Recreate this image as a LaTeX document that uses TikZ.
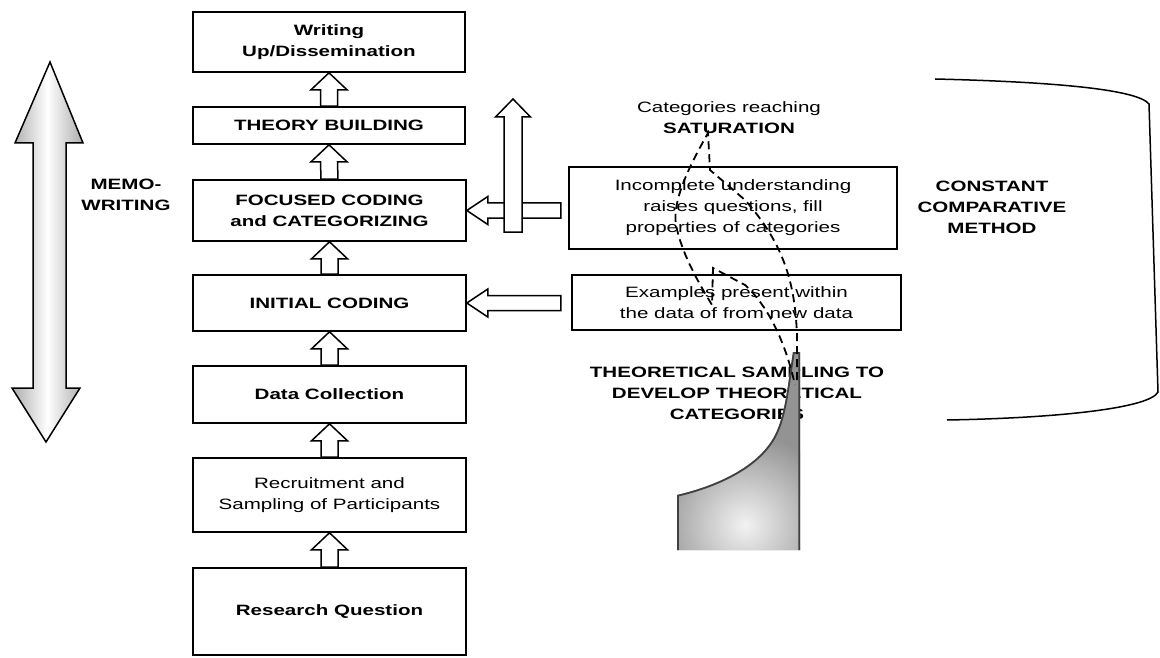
\documentclass[tikz,border=0pt]{standalone}
\usepackage{fontspec}
\setmainfont{Liberation Sans}[FakeStretch=1.37]
\usetikzlibrary{calc}

% upward hollow block arrow from the top of #1 to the bottom of #2
\newcommand\blockup[2]{%
  \draw[blk] (#2.south) -- ++(18,17) -- ++(-9.5,0)
    -- ($(#1.north)+(8.5,0)$) -- ($(#1.north)+(-8.5,0)$)
    -- ($(#2.south)+(-8.5,17)$) -- ++(-9.5,0) -- cycle;}
% leftward hollow block arrow ending at the east side of #1
\newcommand\blockleft[1]{%
  \draw[blk] (#1.east) -- ++(21,-14) -- ++(0,6.5) -- ++(73,0) -- ++(0,15)
    -- ++(-73,0) -- ++(0,6.5) -- cycle;}

\begin{document}
\begin{tikzpicture}[x=1pt,y=-1pt,
  txt/.style={align=center, inner sep=0pt, font=\fontsize{15}{21}\selectfont},
  box/.style={txt, draw, line width=1.6pt},
  blk/.style={draw, line width=1.5pt, fill=white, line join=miter},
  dashline/.style={line width=1.8pt, dash pattern=on 8pt off 5pt}]
\useasboundingbox[fill=white] (0,0) rectangle (1160,658);

% main process column
\node[box, minimum width=272pt, minimum height=60pt] (write) at (329,42)
  {\textbf{Writing}\\\textbf{Up/Dissemination}};
\node[box, minimum width=272pt, minimum height=37pt] (theory) at (329,125.5)
  {\textbf{THEORY BUILDING}};
\node[box, minimum width=273pt, minimum height=61pt] (focused) at (329.5,210.5)
  {\textbf{FOCUSED CODING}\\\textbf{and CATEGORIZING}};
\node[box, minimum width=273pt, minimum height=56pt] (initial) at (329.5,303)
  {\textbf{INITIAL CODING}};
\node[box, minimum width=273pt, minimum height=57pt] (data) at (329.5,394.5)
  {\textbf{Data Collection}};
\node[box, minimum width=273pt, minimum height=74pt] (recruit) at (329.5,495)
  {Recruitment and\\Sampling of Participants};
\node[box, minimum width=273pt, minimum height=87pt] (question) at (329.5,611.5)
  {\textbf{Research Question}};

\blockup{question}{recruit}
\blockup{recruit}{data}
\blockup{data}{initial}
\blockup{initial}{focused}
\blockup{focused}{theory}
\blockup{theory}{write}

% comparison boxes
\node[box, minimum width=328pt, minimum height=82pt] (incomplete) at (733,208)
  {Incomplete understanding\\raises questions, fill\\properties of categories};
\node[box, minimum width=329pt, minimum height=55pt] (examples) at (736.5,302.5)
  {Examples present within\\the data of from new data};

\blockleft{focused}
\blockleft{initial}

% upward arrow crossing the feedback arrow
\draw[blk] (513,99) -- (530.5,117) -- (522,117) -- (522,232) -- (504,232)
  -- (504,117) -- (495.5,117) -- cycle;

% memo-writing double arrow
\draw[line width=1.5pt, line join=miter, left color=gray!65, right color=gray!65,
  middle color=white]
  (50,62) -- (83,143) -- (66,143) -- (66,388) -- (80,388) -- (46,442)
  -- (12,388) -- (33,388) -- (33,143) -- (15,143) -- cycle;

% labels
\node[txt] (memo) at (126,195) {\textbf{MEMO-}\\\textbf{WRITING}};
\node[txt] (saturation) at (729,117.5) {Categories reaching\\\textbf{SATURATION}};
\node[txt] (ccm) at (992,207) {\textbf{CONSTANT}\\\textbf{COMPARATIVE}\\\textbf{METHOD}};
\node[txt] (sampling) at (737,393.5)
  {\textbf{THEORETICAL SAMPLING TO}\\\textbf{DEVELOP THEORETICAL}\\\textbf{CATEGORIES}};

% bracket of the constant comparative method
\draw[line width=1.5pt] (935,79) .. controls (1060,82) and (1138,90) .. (1149,104)
  -- (1158,392) .. controls (1150,408) and (1060,418) .. (947,420);

% shaded tail of the sampling arrow
\begin{scope}
  \clip (793,352) -- (800,352) -- (800,550) -- (677,550) -- (677,495)
    .. controls (720,485) and (760,465) .. (775,435)
    .. controls (785,415) and (787,390) .. (793,352) -- cycle;
  \fill[gray!85] (670,345) rectangle (805,555);
  \shade[inner color=gray!10, outer color=gray!85] (745,525) circle (92);
  \draw[black!75, line width=3.5pt] (677,550) -- (677,495)
    .. controls (720,485) and (760,465) .. (775,435)
    .. controls (785,415) and (787,390) .. (793,352) -- (800,352) -- (800,550);
\end{scope}

% dashed outline of the sampling arrow
\draw[dashline] (797,380) -- (797,335) .. controls (795,285) and (785,245) .. (745,200)
  -- (710,170) -- (708,133)
  .. controls (690,165) and (672,200) .. (676,225)
  .. controls (682,255) and (700,285) .. (712,305)
  -- (713,268) -- (745,285) .. controls (770,308) and (786,345) .. (795,385);
\end{tikzpicture}
\end{document}
